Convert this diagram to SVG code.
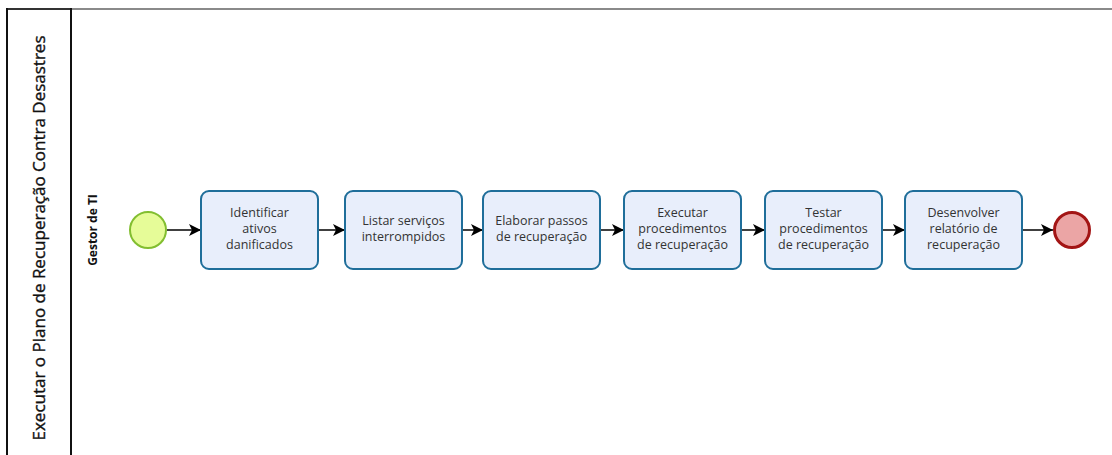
<svg xmlns="http://www.w3.org/2000/svg" width="1112" height="455" viewBox="0 0 1112 455">
  <style>
    .task { fill: #E8EEFB; stroke: #1F6E9A; stroke-width: 2; }
    .lbl { font-family: "Open Sans", "Noto Sans", sans-serif; font-size: 12.5px; fill: #333; text-anchor: middle; }
    .flow { stroke: #000; stroke-width: 1.5; fill: none; marker-end: url(#arrow); }
  </style>
  <defs>
    <marker id="arrow" viewBox="0 0 10 10" refX="10" refY="5" markerWidth="12" markerHeight="12" markerUnits="userSpaceOnUse" orient="auto">
      <path d="M0,0 L10,5 L0,10 L2.5,5 Z" fill="#000"/>
    </marker>
  </defs>

  <rect width="1112" height="455" fill="#fff"/>

  <!-- pool and lane -->
  <g id="pool">
    <line x1="7" y1="9" x2="1112" y2="9" stroke="#8a8a8a" stroke-width="2"/>
    <line x1="7" y1="9" x2="71" y2="9" stroke="#333" stroke-width="2"/>
    <line x1="7" y1="8" x2="7" y2="455" stroke="#111" stroke-width="2"/>
    <line x1="71" y1="8" x2="71" y2="455" stroke="#111" stroke-width="2"/>
    <text transform="translate(45,238) rotate(-90)" font-family="'Open Sans', 'Noto Sans', sans-serif" font-size="17" fill="#111" stroke="#111" stroke-width="0.35" text-anchor="middle">Executar o Plano de Recuperação Contra Desastres</text>
  </g>
  <g id="lane">
    <text transform="translate(97,230) rotate(-90)" font-family="'Open Sans', 'Noto Sans', sans-serif" font-size="12" font-weight="bold" fill="#111" text-anchor="middle">Gestor de TI</text>
  </g>

  <!-- sequence flows -->
  <g id="connectors">
    <line class="flow" x1="167" y1="230" x2="201" y2="230"/>
    <line class="flow" x1="318" y1="230" x2="345" y2="230"/>
    <line class="flow" x1="462" y1="230" x2="483" y2="230"/>
    <line class="flow" x1="600" y1="230" x2="624" y2="230"/>
    <line class="flow" x1="741" y1="230" x2="765" y2="230"/>
    <line class="flow" x1="882" y1="230" x2="905" y2="230"/>
    <line class="flow" x1="1022" y1="230" x2="1053" y2="230"/>
  </g>

  <g id="start">
    <circle cx="148" cy="230" r="18" fill="#E6FC98" stroke="#82BE30" stroke-width="2"/>
  </g>

  <g id="task1">
    <rect class="task" x="201" y="191" width="117" height="78" rx="8"/>
    <text class="lbl" x="259.5" y="217">Identificar</text>
    <text class="lbl" x="259.5" y="233">ativos</text>
    <text class="lbl" x="259.5" y="249">danificados</text>
  </g>
  <g id="task2">
    <rect class="task" x="345" y="191" width="117" height="78" rx="8"/>
    <text class="lbl" x="403.5" y="225">Listar serviços</text>
    <text class="lbl" x="403.5" y="241">interrompidos</text>
  </g>
  <g id="task3">
    <rect class="task" x="483" y="191" width="117" height="78" rx="8"/>
    <text class="lbl" x="541.5" y="225">Elaborar passos</text>
    <text class="lbl" x="541.5" y="241">de recuperação</text>
  </g>
  <g id="task4">
    <rect class="task" x="624" y="191" width="117" height="78" rx="8"/>
    <text class="lbl" x="682.5" y="217">Executar</text>
    <text class="lbl" x="682.5" y="233">procedimentos</text>
    <text class="lbl" x="682.5" y="249">de recuperação</text>
  </g>
  <g id="task5">
    <rect class="task" x="765" y="191" width="117" height="78" rx="8"/>
    <text class="lbl" x="823.5" y="217">Testar</text>
    <text class="lbl" x="823.5" y="233">procedimentos</text>
    <text class="lbl" x="823.5" y="249">de recuperação</text>
  </g>
  <g id="task6">
    <rect class="task" x="905" y="191" width="117" height="78" rx="8"/>
    <text class="lbl" x="963.5" y="217">Desenvolver</text>
    <text class="lbl" x="963.5" y="233">relatório de</text>
    <text class="lbl" x="963.5" y="249">recuperação</text>
  </g>

  <g id="end">
    <circle cx="1072" cy="230" r="17.5" fill="#EBA5A5" stroke="#A31515" stroke-width="3"/>
  </g>
</svg>
